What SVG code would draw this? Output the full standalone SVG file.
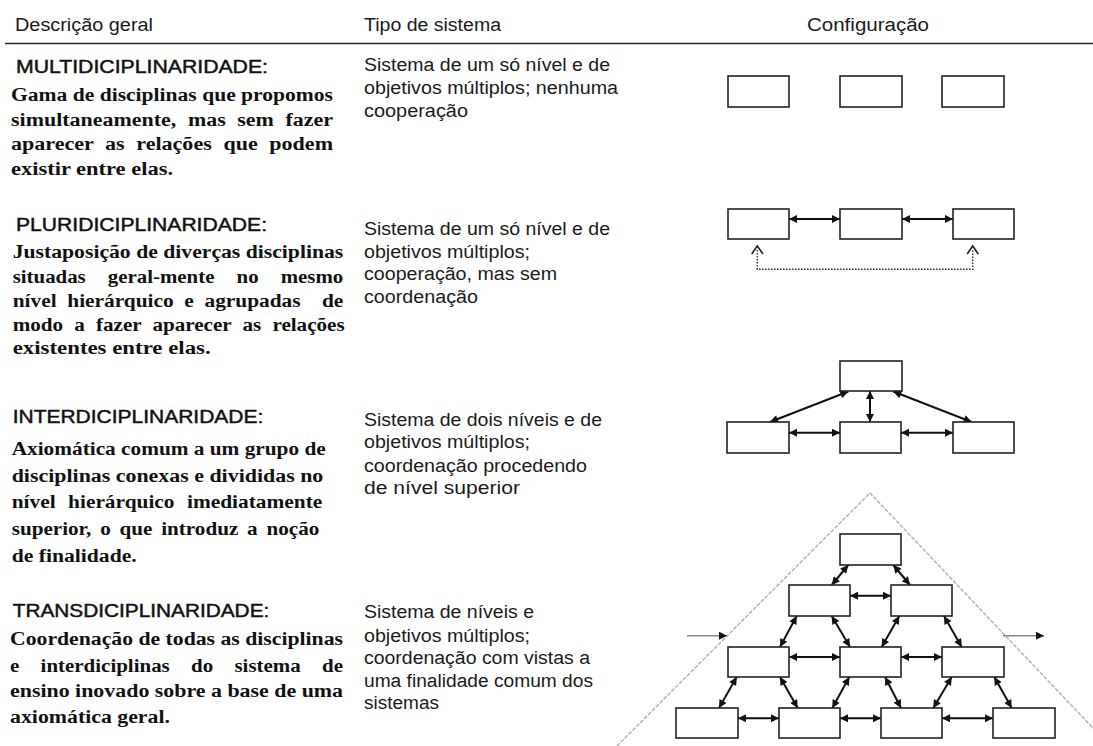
<svg xmlns="http://www.w3.org/2000/svg" width="1093" height="746" viewBox="0 0 1093 746">
<style>
.hd{font-family:"Liberation Sans",Arial,sans-serif;font-size:18px;fill:#1a1a1a}
.tt{font-family:"Liberation Sans",Arial,sans-serif;font-size:17.5px;fill:#111;stroke:#111;stroke-width:0.45}
.ds{font-family:"Liberation Serif","Times New Roman",serif;font-size:18px;font-weight:bold;fill:#111}
.mt{font-family:"Liberation Sans",Arial,sans-serif;font-size:18px;fill:#1a1a1a}
.box{fill:#fff;stroke:#222;stroke-width:1.6}
.ar{stroke:#111;stroke-width:2;fill:none;marker-start:url(#ah);marker-end:url(#ah)}
.side{stroke:#888;stroke-width:1.6;fill:none;marker-end:url(#ah)}
.dot{stroke:#333;stroke-width:1.4;fill:none;stroke-dasharray:1.6 1.4}
.chev{stroke:#222;stroke-width:1.6;fill:none}
.pyr{stroke:#aaa;stroke-width:1.3;fill:none;stroke-dasharray:4 1.5}
</style>
<defs>
<marker id="ah" viewBox="0 0 10 10" refX="10" refY="5" markerUnits="userSpaceOnUse" markerWidth="9" markerHeight="8" orient="auto-start-reverse">
<path d="M0,0 L10,5 L0,10 z" fill="#111"/>
</marker>
</defs>
<rect width="1093" height="746" fill="#fff"/>

<g id="header">
<text class="hd" x="15" y="30.5" textLength="138" lengthAdjust="spacingAndGlyphs">Descrição geral</text>
<text class="hd" x="364" y="30.5" textLength="137" lengthAdjust="spacingAndGlyphs">Tipo de sistema</text>
<text class="hd" x="807" y="31" textLength="122" lengthAdjust="spacingAndGlyphs">Configuração</text>
<line x1="5" y1="43.5" x2="1093" y2="43.5" stroke="#222" stroke-width="1.6"/>
</g>

<g id="row-multi">
<text class="tt" x="16" y="73" textLength="252" lengthAdjust="spacingAndGlyphs">MULTIDICIPLINARIDADE:</text>
<text class="ds" x="11" y="101" textLength="322" lengthAdjust="spacingAndGlyphs">Gama de disciplinas que propomos</text>
<text class="ds" x="11" y="125.5" textLength="322" lengthAdjust="spacingAndGlyphs" style="word-spacing:5px">simultaneamente, mas sem fazer</text>
<text class="ds" x="11" y="150" textLength="322" lengthAdjust="spacingAndGlyphs" style="word-spacing:5px">aparecer as relações que podem</text>
<text class="ds" x="11" y="175" textLength="162" lengthAdjust="spacingAndGlyphs">existir entre elas.</text>
<text class="mt" x="364" y="71" textLength="246" lengthAdjust="spacingAndGlyphs">Sistema de um só nível e de</text>
<text class="mt" x="364" y="94" textLength="254" lengthAdjust="spacingAndGlyphs">objetivos múltiplos; nenhuma</text>
<text class="mt" x="364" y="117" textLength="104" lengthAdjust="spacingAndGlyphs">cooperação</text>
</g>

<g id="row-pluri">
<text class="tt" x="16" y="230.7" textLength="251" lengthAdjust="spacingAndGlyphs">PLURIDICIPLINARIDADE:</text>
<text class="ds" x="12.7" y="258.3" textLength="330.6" lengthAdjust="spacingAndGlyphs">Justaposição de diverças disciplinas</text>
<text class="ds" x="12.7" y="282.7" textLength="330.6" lengthAdjust="spacingAndGlyphs" style="word-spacing:14.6px">situadas geral-mente no mesmo</text>
<text class="ds" x="12.7" y="306.7" textLength="330.6" lengthAdjust="spacingAndGlyphs" xml:space="preserve" style="word-spacing:4.5px;white-space:pre">nível hierárquico e agrupadas  de</text>
<text class="ds" x="12.7" y="330.5" textLength="332" lengthAdjust="spacingAndGlyphs" style="word-spacing:5px">modo a fazer aparecer as relações</text>
<text class="ds" x="12.7" y="354" textLength="198" lengthAdjust="spacingAndGlyphs">existentes entre elas.</text>
<text class="mt" x="364" y="235" textLength="246" lengthAdjust="spacingAndGlyphs">Sistema de um só nível e de</text>
<text class="mt" x="364" y="257.5" textLength="166" lengthAdjust="spacingAndGlyphs">objetivos múltiplos;</text>
<text class="mt" x="364" y="280" textLength="193" lengthAdjust="spacingAndGlyphs">cooperação, mas sem</text>
<text class="mt" x="364" y="302.5" textLength="114" lengthAdjust="spacingAndGlyphs">coordenação</text>
</g>

<g id="row-inter">
<text class="tt" x="12.7" y="423.3" textLength="250.6" lengthAdjust="spacingAndGlyphs">INTERDICIPLINARIDADE:</text>
<text class="ds" x="11.7" y="455" textLength="314" lengthAdjust="spacingAndGlyphs">Axiomática comum a um grupo de</text>
<text class="ds" x="11.7" y="481.7" textLength="311.6" lengthAdjust="spacingAndGlyphs">disciplinas conexas e divididas no</text>
<text class="ds" x="11.7" y="508.3" textLength="310.6" lengthAdjust="spacingAndGlyphs" style="word-spacing:6px">nível hierárquico imediatamente</text>
<text class="ds" x="11.7" y="535" textLength="307.6" lengthAdjust="spacingAndGlyphs" style="word-spacing:3px">superior, o que introduz a noção</text>
<text class="ds" x="11.7" y="561.7" textLength="125" lengthAdjust="spacingAndGlyphs">de finalidade.</text>
<text class="mt" x="364" y="426" textLength="238" lengthAdjust="spacingAndGlyphs">Sistema de dois níveis e de</text>
<text class="mt" x="364" y="448.3" textLength="166" lengthAdjust="spacingAndGlyphs">objetivos múltiplos;</text>
<text class="mt" x="364" y="471.7" textLength="223" lengthAdjust="spacingAndGlyphs">coordenação procedendo</text>
<text class="mt" x="364" y="494" textLength="156" lengthAdjust="spacingAndGlyphs">de nível superior</text>
</g>

<g id="row-trans">
<text class="tt" x="12.7" y="617.3" textLength="256.6" lengthAdjust="spacingAndGlyphs">TRANSDICIPLINARIDADE:</text>
<text class="ds" x="10" y="645" textLength="333" lengthAdjust="spacingAndGlyphs">Coordenação de todas as disciplinas</text>
<text class="ds" x="10" y="671.7" textLength="333" lengthAdjust="spacingAndGlyphs" style="word-spacing:13.8px">e interdiciplinas do sistema de</text>
<text class="ds" x="10" y="697.3" textLength="333" lengthAdjust="spacingAndGlyphs">ensino inovado sobre a base de uma</text>
<text class="ds" x="10" y="723.3" textLength="160" lengthAdjust="spacingAndGlyphs">axiomática geral.</text>
<text class="mt" x="364" y="618.3" textLength="170" lengthAdjust="spacingAndGlyphs">Sistema de níveis e</text>
<text class="mt" x="364" y="641.7" textLength="166" lengthAdjust="spacingAndGlyphs">objetivos múltiplos;</text>
<text class="mt" x="364" y="664" textLength="226" lengthAdjust="spacingAndGlyphs">coordenação com vistas a</text>
<text class="mt" x="364" y="686.7" textLength="229" lengthAdjust="spacingAndGlyphs">uma finalidade comum dos</text>
<text class="mt" x="364" y="709.3" textLength="75" lengthAdjust="spacingAndGlyphs">sistemas</text>
</g>

<path id="pyramid-outline" class="pyr" d="M617,746 L870,493 L1110,746"/>

<g id="connectors">
<line class="ar" x1="789" y1="219" x2="840" y2="219"/>
<line class="ar" x1="902" y1="219" x2="953" y2="219"/>
<path class="dot" d="M757.3,250 V269.3 H972.7 V250"/>
<polyline class="chev" points="751.7,254 757.3,246 763,254"/>
<polyline class="chev" points="967.2,254 972.7,246 978.3,254"/>

<line class="ar" x1="789" y1="432.7" x2="840" y2="432.7"/>
<line class="ar" x1="901" y1="432.7" x2="953" y2="432.7"/>
<line class="ar" x1="870" y1="391" x2="870" y2="422"/>
<line class="ar" x1="848.3" y1="391.5" x2="770" y2="422"/>
<line class="ar" x1="893.3" y1="391.5" x2="971.7" y2="422"/>

<line class="ar" x1="848.3" y1="565" x2="831.7" y2="585"/>
<line class="ar" x1="893.3" y1="565" x2="910" y2="585"/>
<line class="ar" x1="850" y1="595.7" x2="891" y2="595.7"/>
<line class="ar" x1="796.7" y1="616" x2="780" y2="647"/>
<line class="ar" x1="831.7" y1="616" x2="850" y2="647"/>
<line class="ar" x1="899.3" y1="616" x2="881.7" y2="647"/>
<line class="ar" x1="944" y1="616" x2="961.7" y2="647"/>
<line class="ar" x1="789" y1="657" x2="840" y2="657"/>
<line class="ar" x1="901" y1="657" x2="942" y2="657"/>
<line class="ar" x1="736.7" y1="677" x2="719" y2="708"/>
<line class="ar" x1="780" y1="677" x2="797.7" y2="708"/>
<line class="ar" x1="849.3" y1="677" x2="832.3" y2="708"/>
<line class="ar" x1="885" y1="677" x2="901" y2="708"/>
<line class="ar" x1="951.7" y1="677" x2="933.3" y2="708"/>
<line class="ar" x1="994.3" y1="677" x2="1011.7" y2="708"/>
<line class="ar" x1="738" y1="718.3" x2="779" y2="718.3"/>
<line class="ar" x1="840" y1="718.3" x2="881" y2="718.3"/>
<line class="ar" x1="942" y1="718.3" x2="993" y2="718.3"/>
<line class="side" x1="687" y1="635.7" x2="727" y2="635.7"/>
<line class="side" x1="1003" y1="635.7" x2="1044" y2="635.7"/>
</g>

<g id="multi-1"><rect class="box" x="728" y="76" width="61" height="31"/></g>
<g id="multi-2"><rect class="box" x="840" y="76" width="62" height="31"/></g>
<g id="multi-3"><rect class="box" x="942" y="76" width="62" height="31"/></g>

<g id="pluri-1"><rect class="box" x="728" y="209" width="61" height="30"/></g>
<g id="pluri-2"><rect class="box" x="840" y="209" width="62" height="30"/></g>
<g id="pluri-3"><rect class="box" x="953" y="209" width="61" height="30"/></g>

<g id="inter-top"><rect class="box" x="840" y="361" width="62" height="30"/></g>
<g id="inter-1"><rect class="box" x="727" y="422" width="62" height="31"/></g>
<g id="inter-2"><rect class="box" x="840" y="422" width="61" height="31"/></g>
<g id="inter-3"><rect class="box" x="953" y="422" width="61" height="31"/></g>

<g id="trans-top"><rect class="box" x="840" y="534" width="61" height="31"/></g>
<g id="trans-2a"><rect class="box" x="789" y="585" width="61" height="31"/></g>
<g id="trans-2b"><rect class="box" x="891" y="585" width="61" height="31"/></g>
<g id="trans-3a"><rect class="box" x="728" y="647" width="61" height="30"/></g>
<g id="trans-3b"><rect class="box" x="840" y="647" width="61" height="30"/></g>
<g id="trans-3c"><rect class="box" x="942" y="647" width="62" height="30"/></g>
<g id="trans-4a"><rect class="box" x="676" y="708" width="62" height="30"/></g>
<g id="trans-4b"><rect class="box" x="779" y="708" width="61" height="30"/></g>
<g id="trans-4c"><rect class="box" x="881" y="708" width="61" height="30"/></g>
<g id="trans-4d"><rect class="box" x="993" y="708" width="62" height="30"/></g>
</svg>
